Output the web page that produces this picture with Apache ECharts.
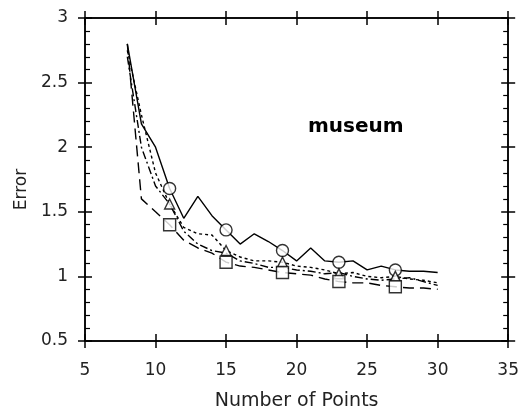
<!doctype html>
<html>

<head>
    <meta charset="utf-8">
    <title>museum</title>
    <script type="text/javascript" src="https://cdn.jsdelivr.net/npm/echarts@6/dist/echarts.min.js"></script>
</head>

<body style="margin:0;padding:0;background:#fff">
    <div id="tb" style="width:522px;height:416px"></div>
    <script>
        // 横轴：点数
        var points = [8, 9, 10, 11, 12, 13, 14, 15, 16, 17, 18, 19, 20, 21, 22, 23, 24, 25, 26, 27, 28, 29, 30];
        // 四条曲线
        var solidErr = [2.80, 2.18, 2.00, 1.68, 1.45, 1.62, 1.47, 1.36, 1.25, 1.33, 1.27, 1.20, 1.12, 1.22, 1.12, 1.11, 1.12, 1.05, 1.08, 1.05, 1.04, 1.04, 1.03];
        var dotErr = [2.75, 2.25, 1.80, 1.56, 1.38, 1.33, 1.32, 1.20, 1.15, 1.12, 1.12, 1.11, 1.08, 1.07, 1.05, 1.02, 1.03, 1.00, 0.99, 1.00, 0.98, 0.97, 0.95];
        var dashDotErr = [2.70, 2.00, 1.70, 1.56, 1.35, 1.25, 1.20, 1.18, 1.12, 1.10, 1.07, 1.07, 1.05, 1.04, 1.02, 1.03, 1.00, 0.98, 0.97, 0.98, 0.99, 0.96, 0.93];
        var longDashErr = [2.80, 1.60, 1.50, 1.40, 1.28, 1.22, 1.18, 1.11, 1.08, 1.07, 1.05, 1.03, 1.02, 1.01, 0.98, 0.96, 0.95, 0.95, 0.93, 0.92, 0.91, 0.91, 0.90];
        // 带标记的点
        var markerX = [11, 15, 19, 23, 27];
        var xTicks = [5, 10, 15, 20, 25, 30, 35];
        var yTicks = [0.5, 1, 1.5, 2, 2.5, 3];

        var FONT = 'DejaVu Sans';
        var bt = document.getElementById('tb');
        var chart = echarts.init(bt);

        function pairs(ys) {
            return points.map(function (x, i) { return [x, ys[i]]; });
        }
        function marks(ys) {
            return markerX.map(function (x) { return [x, ys[points.indexOf(x)]]; });
        }
        function lineSeries(ys, type) {
            return {
                type: 'line',
                data: pairs(ys),
                symbol: 'none',
                lineStyle: { color: '#000', width: 1.4, type: type },
                z: 3
            };
        }
        function markSeries(ys, sym, size) {
            return {
                type: 'scatter',
                data: marks(ys),
                symbol: sym,
                symbolSize: size,
                itemStyle: { color: '#fff', borderColor: '#000', borderWidth: 1.4 },
                z: 4
            };
        }

        // 轴：主刻度穿过轴线，所以内外各画一遍
        function xAx(pos, inside, withLabel) {
            return {
                type: 'value', position: pos, min: xTicks[0], max: xTicks[xTicks.length - 1], interval: 5,
                axisLine: { show: true, lineStyle: { color: '#000', width: 1.5 } },
                axisTick: { show: true, inside: inside, length: 7, lineStyle: { color: '#000', width: 1.5 } },
                axisLabel: { show: withLabel, margin: 21, color: '#222', fontFamily: FONT, fontSize: 17 },
                splitLine: { show: false },
                name: withLabel ? 'Number of Points' : '',
                nameLocation: 'middle', nameGap: 51,
                nameTextStyle: { color: '#222', fontFamily: FONT, fontSize: 19 }
            };
        }
        function yAx(pos, inside, withLabel) {
            return {
                type: 'value', position: pos, min: yTicks[0], max: yTicks[yTicks.length - 1], interval: 0.5,
                axisLine: { show: true, lineStyle: { color: '#000', width: 1.5 } },
                axisTick: { show: true, inside: inside, length: 7, lineStyle: { color: '#000', width: 1.5 } },
                minorTick: { show: inside, splitNumber: 5, length: 5, lineStyle: { color: '#000', width: 1.2 } },
                axisLabel: { show: withLabel, margin: 17, color: '#222', fontFamily: FONT, fontSize: 17 },
                splitLine: { show: false },
                name: withLabel ? 'Error' : '',
                nameLocation: 'middle', nameGap: 52,
                nameTextStyle: { color: '#222', fontFamily: FONT, fontSize: 17, padding: [0, 20, 0, 0] }
            };
        }

        chart.setOption({
            animation: false,
            backgroundColor: '#fff',
            title: {
                text: 'museum', left: 303, top: 112,
                textStyle: { fontFamily: FONT, fontSize: 20, fontWeight: 'bold', color: '#000' }
            },
            grid: { left: 85, right: 5, top: 18, bottom: 75 },
            xAxis: [xAx('bottom', false, true), xAx('bottom', true, false), xAx('top', false, false), xAx('top', true, false)],
            yAxis: [yAx('left', false, true), yAx('left', true, false), yAx('right', false, false), yAx('right', true, false)],
            series: [
                lineSeries(solidErr, 'solid'),
                lineSeries(dotErr, [3, 3]),
                lineSeries(dashDotErr, [8, 3, 2, 3]),
                lineSeries(longDashErr, [11, 6]),
                markSeries(solidErr, 'circle', 12),
                markSeries(dotErr, 'triangle', 10),
                markSeries(longDashErr, 'rect', 12)
            ]
        });
    </script>
</body>

</html>
